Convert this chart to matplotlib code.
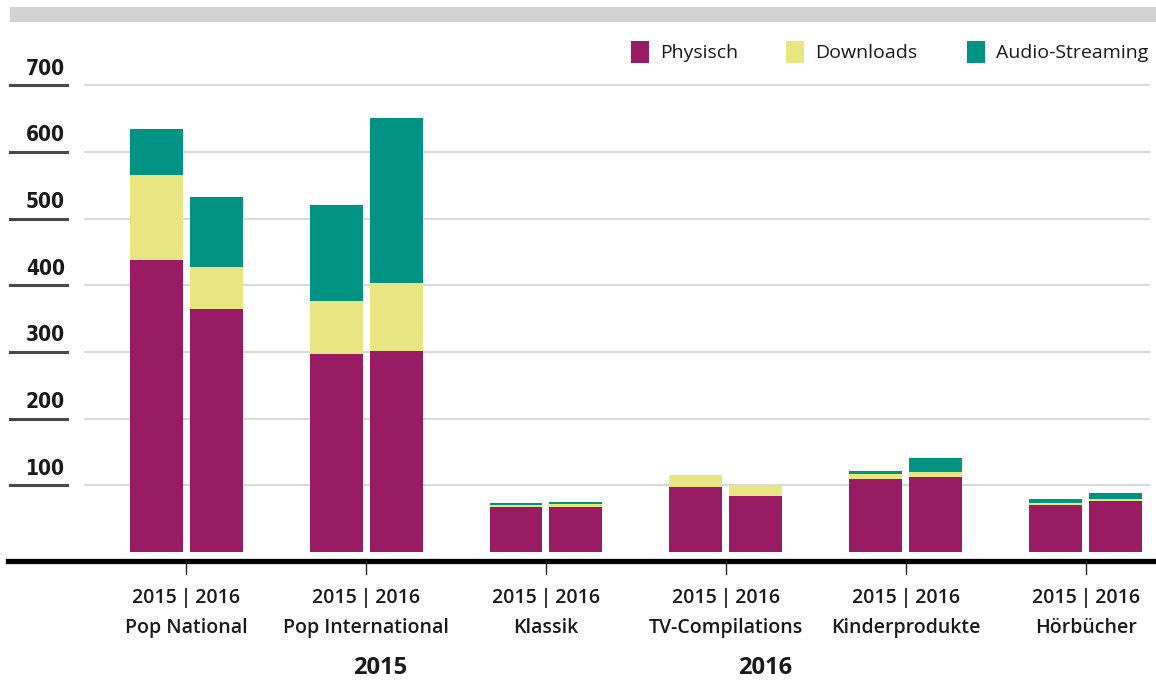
import matplotlib.pyplot as plt
import matplotlib.transforms as mtrans
from matplotlib.lines import Line2D
from matplotlib.patches import Rectangle
import numpy as np

# data (Mio. Euro)
categories = ["Pop National", "Pop International", "Klassik",
              "TV-Compilations", "Kinderprodukte", "Hörbücher"]
physisch_2015 = [438, 297, 68, 98, 110, 71]
physisch_2016 = [365, 302, 68, 84, 113, 77]
downloads_2015 = [128, 80, 3, 18, 7, 3]
downloads_2016 = [63, 102, 3.5, 15, 7, 3]
streaming_2015 = [68, 144, 3, 0, 5, 6]
streaming_2016 = [105, 247, 3.5, 0, 21, 9]
yticks = [100, 200, 300, 400, 500, 600, 700]
series_names = ["Physisch", "Downloads", "Audio-Streaming"]
colors = ["#981b63", "#e8e682", "#009384"]

W, H = 1156, 683
fx = lambda px: px / W
fy = lambda py: (H - py) / H

txtfont = ["Open Sans", "DejaVu Sans"]

fig = plt.figure(figsize=(W / 100, H / 100), dpi=100)
ax = fig.add_axes([fx(84), fy(552), fx(1150) - fx(84), fy(72) - fy(552)])
ax.set_ylim(0, 720)
ax.set_xlim(-0.567, 5.356)

x = np.arange(len(categories))
bw = 53 / 180
off = 30 / 180
for xs, ph, dl, st in [(x - off, physisch_2015, downloads_2015, streaming_2015),
                       (x + off, physisch_2016, downloads_2016, streaming_2016)]:
    ph = np.array(ph, float); dl = np.array(dl, float); st = np.array(st, float)
    ax.bar(xs, ph, bw, color=colors[0], zorder=3)
    ax.bar(xs, dl, bw, bottom=ph, color=colors[1], zorder=3)
    ax.bar(xs, st, bw, bottom=ph + dl, color=colors[2], zorder=3)

ax.set_yticks(yticks)
ax.yaxis.grid(True, color="#d9d9d9", lw=1.5, zorder=0)
ax.set_xticks([])
ax.tick_params(axis="y", length=0, labelleft=False)
for s in ax.spines.values():
    s.set_visible(False)

# y labels with short underline
tr = mtrans.blended_transform_factory(fig.transFigure, ax.transData)
for v in yticks:
    fig.add_artist(Line2D([fx(10), fx(67)], [v, v], transform=tr,
                          color="#4a4a4a", lw=2.2))
    fig.text(fx(65), v + 10, str(v), transform=tr, ha="right", va="bottom",
             fontsize=15, fontweight="bold", family="DejaVu Sans",
             fontstretch="condensed", color="#1a1a1a")

# top gray band
fig.add_artist(Rectangle((fx(10), fy(22)), 1 - fx(10), fy(7) - fy(22),
                         transform=fig.transFigure, color="#d1d2d4", lw=0))

# baseline
fig.add_artist(Line2D([fx(8), 1], [fy(561), fy(561)], transform=fig.transFigure,
                      color="black", lw=3.8))
trx = mtrans.blended_transform_factory(ax.transData, fig.transFigure)
for i, c in enumerate(categories):
    fig.add_artist(Line2D([i, i], [fy(561), fy(574)], transform=trx,
                          color="#222222", lw=1))
    fig.text(i, fy(598), "2015\u2009|\u20092016", transform=trx, ha="center",
             va="center", fontsize=14, fontweight="semibold", family=txtfont,
             color="#1a1a1a")
    fig.text(i, fy(628), c, transform=trx, ha="center", va="center",
             fontsize=14, fontweight="semibold", family=txtfont, color="#1a1a1a")

fig.text(fx(380), fy(668), "2015", ha="center", va="center", fontsize=17,
         fontweight="bold", family=txtfont, color="#1a1a1a")
fig.text(fx(765), fy(668), "2016", ha="center", va="center", fontsize=17,
         fontweight="bold", family=txtfont, color="#1a1a1a")

# legend
for name, col, sx in zip(series_names, colors, [631, 786, 967]):
    fig.add_artist(Rectangle((fx(sx), fy(63)), fx(18), fy(41) - fy(63),
                             transform=fig.transFigure, color=col, lw=0))
    fig.text(fx(sx + 29), fy(53), name, ha="left", va="center", fontsize=14,
             family=txtfont, color="#1a1a1a")

fig.savefig("out.png", dpi=100)
